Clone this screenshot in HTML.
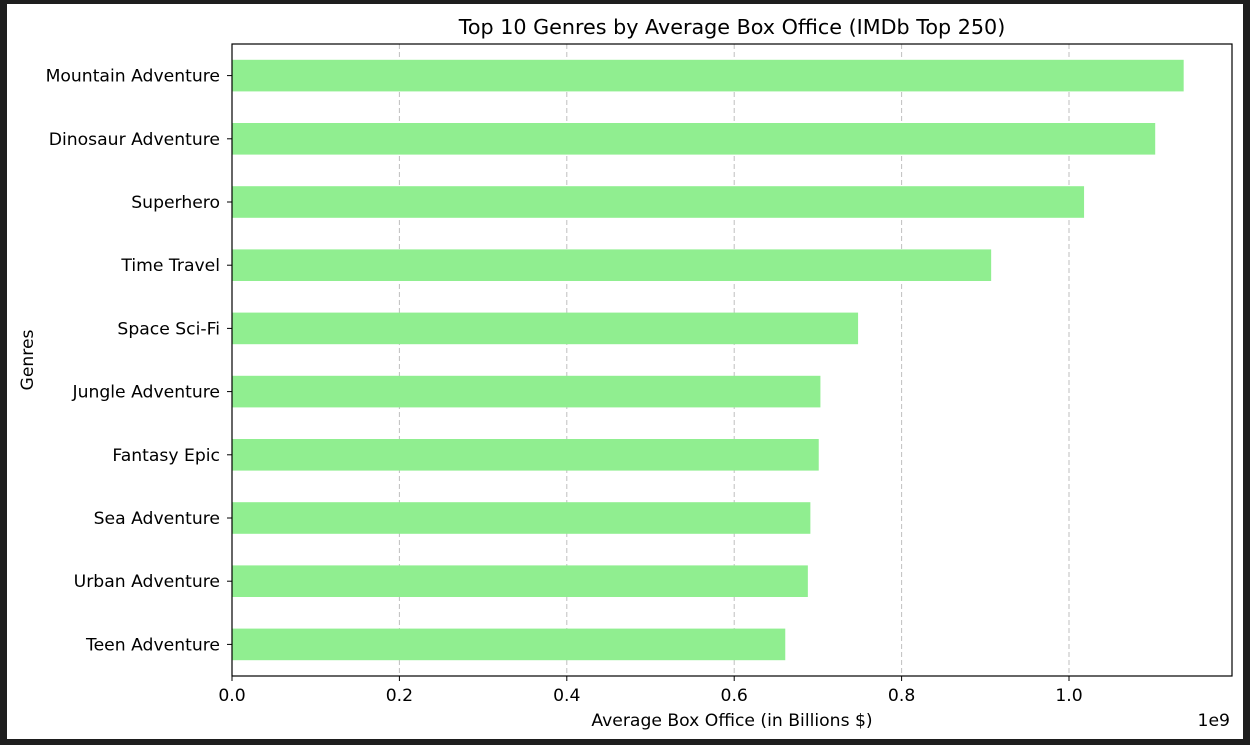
<!DOCTYPE html>
<html><head><meta charset="utf-8"><style>
html,body{margin:0;padding:0;background:#1e1e1e;}
svg{display:block;font-family:"DejaVu Sans","Liberation Sans",sans-serif;}
</style></head><body>
<svg width="1250" height="745">
<rect x="7" y="4" width="1236" height="735" fill="#fff"/>
<g id="grid"></g><g id="bars"></g><g id="axes"></g>
<text x="732" y="34" text-anchor="middle" font-size="20.7" fill="#000">Top 10 Genres by Average Box Office (IMDb Top 250)</text>
<text x="732" y="726" text-anchor="middle" font-size="17.2" fill="#000">Average Box Office (in Billions $)</text>
<text x="1230" y="726" text-anchor="end" font-size="17.2" fill="#000">1e9</text>
<text transform="translate(33,360) rotate(-90)" text-anchor="middle" font-size="17.2" fill="#000">Genres</text>
</svg>
<script>
const categories=["Mountain Adventure","Dinosaur Adventure","Superhero","Time Travel","Space Sci-Fi","Jungle Adventure","Fantasy Epic","Sea Adventure","Urban Adventure","Teen Adventure"];
const values=[1.137e9,1.103e9,1.018e9,0.907e9,0.748e9,0.703e9,0.701e9,0.691e9,0.688e9,0.661e9];
const xTicks=[0,0.2e9,0.4e9,0.6e9,0.8e9,1.0e9];
const xTickLabels=["0.0","0.2","0.4","0.6","0.8","1.0"];
const L=232,R=1232,T=44,B=676;
const NS="http://www.w3.org/2000/svg";
const xs=v=>L+v/1e9*837;
const step=(B-T)/categories.length;
const yc=i=>T+step*(i+0.5);
function mk(tag,attrs,parent,text){const e=document.createElementNS(NS,tag);for(const k in attrs)e.setAttribute(k,attrs[k]);if(text!==undefined)e.textContent=text;document.getElementById(parent).appendChild(e);return e;}
xTicks.forEach((t,i)=>{
  const x=xs(t);
  if(i>0){const g=mk('line',{x1:x,x2:x,y1:T,y2:B,stroke:'#b0b0b0','stroke-width':1,'stroke-dasharray':'5,3',opacity:0.8},'grid');
  
  }
  const tk=mk('line',{x1:x,x2:x,y1:B,y2:B+5,stroke:'#000'},'axes');
  
  
  const tl=mk('text',{x:x,y:B+25,'text-anchor':'middle','font-size':17.2,fill:'#000'},'axes',xTickLabels[i]);
  
  
});
categories.forEach((c,i)=>{
  const y=yc(i),h=step*0.5;
  const b=mk('rect',{x:L,y:y-h/2,width:xs(values[i])-L,height:h,fill:'#90ee90'},'bars');
  
  
  const tk=mk('line',{x1:L-5,x2:L,y1:y,y2:y,stroke:'#000'},'axes');
  
  
  const tl=mk('text',{x:L-12,y:y+6,'text-anchor':'end','font-size':17.2,fill:'#000'},'axes',c);
  
  
});
const f=mk('rect',{x:L,y:T,width:R-L,height:B-T,fill:'none',stroke:'#000','stroke-width':1.2},'axes');


</script>
</body></html>
